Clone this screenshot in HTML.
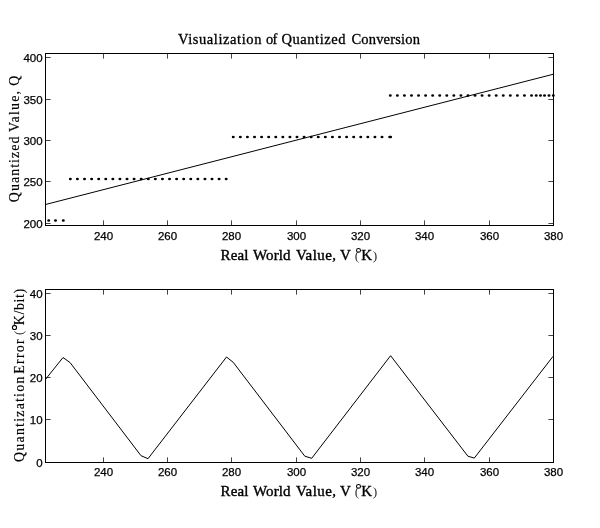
<!DOCTYPE html><html><head><meta charset="utf-8"><style>html,body{margin:0;padding:0;background:#fff;}svg{display:block;filter:grayscale(1);}.s{font-family:"Liberation Serif",serif;fill:#000;stroke:#000;}.t{font-family:"Liberation Sans",sans-serif;font-size:11.5px;fill:#000;stroke:#000;stroke-width:0.25px;}.p{font-family:"Liberation Serif",serif;font-size:13.5px;fill:#333;}</style></head><body>
<svg width="600" height="528" viewBox="0 0 600 528">
<rect width="600" height="528" fill="#fff"/>
<path d="M103.5 225v-4M103.5 54v4M167.5 225v-4M167.5 54v4M231.5 225v-4M231.5 54v4M296.5 225v-4M296.5 54v4M360.5 225v-4M360.5 54v4M424.5 225v-4M424.5 54v4M489.5 225v-4M489.5 54v4M46 57.5h4M553 57.5h-4M46 99.5h4M553 99.5h-4M46 140.5h4M553 140.5h-4M46 181.5h4M553 181.5h-4M46 223.5h4M553 223.5h-4" stroke="#454545" stroke-width="1" fill="none" shape-rendering="crispEdges"/>
<path d="M103.5 221v-1M103.5 58v1M167.5 221v-1M167.5 58v1M231.5 221v-1M231.5 58v1M296.5 221v-1M296.5 58v1M360.5 221v-1M360.5 58v1M424.5 221v-1M424.5 58v1M489.5 221v-1M489.5 58v1M50 57.5h1M549 57.5h-1M50 99.5h1M549 99.5h-1M50 140.5h1M549 140.5h-1M50 181.5h1M549 181.5h-1M50 223.5h1M549 223.5h-1" stroke="#8c8c8c" stroke-width="1" fill="none" shape-rendering="crispEdges"/>
<rect x="45.5" y="53.5" width="508" height="172" fill="none" stroke="#000" stroke-width="1" shape-rendering="crispEdges"/>
<text class="t" x="103.5" y="239.7" text-anchor="middle">240</text>
<text class="t" x="167.5" y="239.7" text-anchor="middle">260</text>
<text class="t" x="231.5" y="239.7" text-anchor="middle">280</text>
<text class="t" x="296.5" y="239.7" text-anchor="middle">300</text>
<text class="t" x="360.5" y="239.7" text-anchor="middle">320</text>
<text class="t" x="424.5" y="239.7" text-anchor="middle">340</text>
<text class="t" x="489.5" y="239.7" text-anchor="middle">360</text>
<text class="t" x="553.5" y="239.7" text-anchor="middle">380</text>
<text class="t" x="42.6" y="61.7" text-anchor="end">400</text>
<text class="t" x="42.6" y="103.7" text-anchor="end">350</text>
<text class="t" x="42.6" y="144.7" text-anchor="end">300</text>
<text class="t" x="42.6" y="185.7" text-anchor="end">250</text>
<text class="t" x="42.6" y="227.7" text-anchor="end">200</text>
<text class="p" x="354.8" y="260.1">(</text>
<ellipse cx="358.5" cy="250.4" rx="2" ry="1.85" fill="none" stroke="#000" stroke-width="1.05"/>
<text class="p" x="372.7" y="260.1">)</text>
<path d="M103.5 462v-4M103.5 290v4M167.5 462v-4M167.5 290v4M231.5 462v-4M231.5 290v4M296.5 462v-4M296.5 290v4M360.5 462v-4M360.5 290v4M424.5 462v-4M424.5 290v4M489.5 462v-4M489.5 290v4M46 293.5h4M553 293.5h-4M46 335.5h4M553 335.5h-4M46 377.5h4M553 377.5h-4M46 419.5h4M553 419.5h-4" stroke="#454545" stroke-width="1" fill="none" shape-rendering="crispEdges"/>
<path d="M103.5 458v-1M103.5 294v1M167.5 458v-1M167.5 294v1M231.5 458v-1M231.5 294v1M296.5 458v-1M296.5 294v1M360.5 458v-1M360.5 294v1M424.5 458v-1M424.5 294v1M489.5 458v-1M489.5 294v1M50 293.5h1M549 293.5h-1M50 335.5h1M549 335.5h-1M50 377.5h1M549 377.5h-1M50 419.5h1M549 419.5h-1" stroke="#8c8c8c" stroke-width="1" fill="none" shape-rendering="crispEdges"/>
<rect x="45.5" y="289.5" width="508" height="173" fill="none" stroke="#000" stroke-width="1" shape-rendering="crispEdges"/>
<text class="t" x="103.5" y="475.7" text-anchor="middle">240</text>
<text class="t" x="167.5" y="475.7" text-anchor="middle">260</text>
<text class="t" x="231.5" y="475.7" text-anchor="middle">280</text>
<text class="t" x="296.5" y="475.7" text-anchor="middle">300</text>
<text class="t" x="360.5" y="475.7" text-anchor="middle">320</text>
<text class="t" x="424.5" y="475.7" text-anchor="middle">340</text>
<text class="t" x="489.5" y="475.7" text-anchor="middle">360</text>
<text class="t" x="553.5" y="475.7" text-anchor="middle">380</text>
<text class="t" x="42.6" y="297.7" text-anchor="end">40</text>
<text class="t" x="42.6" y="339.7" text-anchor="end">30</text>
<text class="t" x="42.6" y="381.7" text-anchor="end">20</text>
<text class="t" x="42.6" y="423.7" text-anchor="end">10</text>
<text class="t" x="42.6" y="466.7" text-anchor="end">0</text>
<text class="p" x="354.8" y="496.1">(</text>
<ellipse cx="358.5" cy="486.4" rx="2" ry="1.85" fill="none" stroke="#000" stroke-width="1.05"/>
<text class="p" x="372.7" y="496.1">)</text>
<text id="t1" class="s" x="178" y="43.7" font-size="14.5" stroke-width="0.3" textLength="83.4" lengthAdjust="spacing">Visualization</text>
<text id="t2" class="s" x="266" y="43.7" font-size="14.5" stroke-width="0.3" textLength="11.4" lengthAdjust="spacing">of</text>
<text id="t3" class="s" x="281.5" y="43.7" font-size="14.5" stroke-width="0.3" textLength="64" lengthAdjust="spacing">Quantized</text>
<text id="t4" class="s" x="351.5" y="43.7" font-size="14.5" stroke-width="0.3" textLength="68.4" lengthAdjust="spacing">Conversion</text>
<text id="x1a" class="s" x="220.6" y="259.8" font-size="15" stroke-width="0.38" textLength="27.9" lengthAdjust="spacing">Real</text>
<text id="x2a" class="s" x="253" y="259.8" font-size="15" stroke-width="0.38" textLength="37.5" lengthAdjust="spacing">World</text>
<text id="x3a" class="s" x="296" y="259.8" font-size="15" stroke-width="0.38" textLength="40" lengthAdjust="spacing">Value,</text>
<text id="x4a" class="s" x="340" y="259.8" font-size="15" stroke-width="0.38" textLength="-2" lengthAdjust="spacing">V</text>
<text id="x5a" class="s" x="361.25" y="259.8" font-size="15" stroke-width="0.38" textLength="7.75" lengthAdjust="spacing">K</text>
<text id="x1b" class="s" x="220.6" y="495.8" font-size="15" stroke-width="0.38" textLength="27.9" lengthAdjust="spacing">Real</text>
<text id="x2b" class="s" x="253" y="495.8" font-size="15" stroke-width="0.38" textLength="37.5" lengthAdjust="spacing">World</text>
<text id="x3b" class="s" x="296" y="495.8" font-size="15" stroke-width="0.38" textLength="40" lengthAdjust="spacing">Value,</text>
<text id="x4b" class="s" x="340" y="495.8" font-size="15" stroke-width="0.38" textLength="-2" lengthAdjust="spacing">V</text>
<text id="x5b" class="s" x="361.25" y="495.8" font-size="15" stroke-width="0.38" textLength="7.75" lengthAdjust="spacing">K</text>
<text id="y1" class="s" transform="translate(18.8,202.25) rotate(-90)" font-size="14" stroke-width="0.15" textLength="65.75" lengthAdjust="spacing">Quantized</text>
<text id="y2" class="s" transform="translate(18.8,132.1) rotate(-90)" font-size="14" stroke-width="0.15" textLength="41.2" lengthAdjust="spacing">Value,</text>
<text id="y3" class="s" transform="translate(18.8,85.8) rotate(-90)" font-size="14" stroke-width="0.15" textLength="7.7" lengthAdjust="spacing">Q</text>
<text id="z1" class="s" transform="translate(24,462) rotate(-90)" font-size="14" stroke-width="0.15" textLength="85.4" lengthAdjust="spacing">Quantization</text>
<text id="z2" class="s" transform="translate(24,373.75) rotate(-90)" font-size="14" stroke-width="0.15" textLength="34.45" lengthAdjust="spacing">Error</text>
<text id="z3" class="s" transform="translate(24,325.3) rotate(-90)" font-size="14" stroke-width="0.15" textLength="36.5" lengthAdjust="spacing">K/bit)</text>
<text class="p" transform="translate(22.9,334.9) rotate(-90)">(</text>
<ellipse cx="14.5" cy="327.4" rx="2.05" ry="2.05" fill="none" stroke="#000" stroke-width="1.05"/>
<path d="M45.5 204.5L553 74.3" stroke="#000" stroke-width="1" fill="none"/>
<path d="M47.2 220.5a1.5 1.3 0 1 0 3 0a1.5 1.3 0 1 0 -3 0zM54 220.5a1.5 1.3 0 1 0 3 0a1.5 1.3 0 1 0 -3 0zM61.8 220.5a1.5 1.3 0 1 0 3 0a1.5 1.3 0 1 0 -3 0zM68.85 179a1.5 1.3 0 1 0 3 0a1.5 1.3 0 1 0 -3 0zM75.93 179a1.5 1.3 0 1 0 3 0a1.5 1.3 0 1 0 -3 0zM83.02 179a1.5 1.3 0 1 0 3 0a1.5 1.3 0 1 0 -3 0zM90.1 179a1.5 1.3 0 1 0 3 0a1.5 1.3 0 1 0 -3 0zM97.18 179a1.5 1.3 0 1 0 3 0a1.5 1.3 0 1 0 -3 0zM104.26 179a1.5 1.3 0 1 0 3 0a1.5 1.3 0 1 0 -3 0zM111.35 179a1.5 1.3 0 1 0 3 0a1.5 1.3 0 1 0 -3 0zM118.43 179a1.5 1.3 0 1 0 3 0a1.5 1.3 0 1 0 -3 0zM125.51 179a1.5 1.3 0 1 0 3 0a1.5 1.3 0 1 0 -3 0zM132.6 179a1.5 1.3 0 1 0 3 0a1.5 1.3 0 1 0 -3 0zM139.68 179a1.5 1.3 0 1 0 3 0a1.5 1.3 0 1 0 -3 0zM146.76 179a1.5 1.3 0 1 0 3 0a1.5 1.3 0 1 0 -3 0zM153.84 179a1.5 1.3 0 1 0 3 0a1.5 1.3 0 1 0 -3 0zM160.93 179a1.5 1.3 0 1 0 3 0a1.5 1.3 0 1 0 -3 0zM168.01 179a1.5 1.3 0 1 0 3 0a1.5 1.3 0 1 0 -3 0zM175.09 179a1.5 1.3 0 1 0 3 0a1.5 1.3 0 1 0 -3 0zM182.18 179a1.5 1.3 0 1 0 3 0a1.5 1.3 0 1 0 -3 0zM189.26 179a1.5 1.3 0 1 0 3 0a1.5 1.3 0 1 0 -3 0zM196.34 179a1.5 1.3 0 1 0 3 0a1.5 1.3 0 1 0 -3 0zM203.43 179a1.5 1.3 0 1 0 3 0a1.5 1.3 0 1 0 -3 0zM210.51 179a1.5 1.3 0 1 0 3 0a1.5 1.3 0 1 0 -3 0zM217.59 179a1.5 1.3 0 1 0 3 0a1.5 1.3 0 1 0 -3 0zM224.68 179a1.5 1.3 0 1 0 3 0a1.5 1.3 0 1 0 -3 0zM231.76 137a1.5 1.3 0 1 0 3 0a1.5 1.3 0 1 0 -3 0zM238.84 137a1.5 1.3 0 1 0 3 0a1.5 1.3 0 1 0 -3 0zM245.92 137a1.5 1.3 0 1 0 3 0a1.5 1.3 0 1 0 -3 0zM253.01 137a1.5 1.3 0 1 0 3 0a1.5 1.3 0 1 0 -3 0zM260.09 137a1.5 1.3 0 1 0 3 0a1.5 1.3 0 1 0 -3 0zM267.17 137a1.5 1.3 0 1 0 3 0a1.5 1.3 0 1 0 -3 0zM274.26 137a1.5 1.3 0 1 0 3 0a1.5 1.3 0 1 0 -3 0zM281.34 137a1.5 1.3 0 1 0 3 0a1.5 1.3 0 1 0 -3 0zM288.42 137a1.5 1.3 0 1 0 3 0a1.5 1.3 0 1 0 -3 0zM295.5 137a1.5 1.3 0 1 0 3 0a1.5 1.3 0 1 0 -3 0zM302.59 137a1.5 1.3 0 1 0 3 0a1.5 1.3 0 1 0 -3 0zM309.67 137a1.5 1.3 0 1 0 3 0a1.5 1.3 0 1 0 -3 0zM316.75 137a1.5 1.3 0 1 0 3 0a1.5 1.3 0 1 0 -3 0zM323.84 137a1.5 1.3 0 1 0 3 0a1.5 1.3 0 1 0 -3 0zM330.92 137a1.5 1.3 0 1 0 3 0a1.5 1.3 0 1 0 -3 0zM338 137a1.5 1.3 0 1 0 3 0a1.5 1.3 0 1 0 -3 0zM345.09 137a1.5 1.3 0 1 0 3 0a1.5 1.3 0 1 0 -3 0zM352.17 137a1.5 1.3 0 1 0 3 0a1.5 1.3 0 1 0 -3 0zM359.25 137a1.5 1.3 0 1 0 3 0a1.5 1.3 0 1 0 -3 0zM366.34 137a1.5 1.3 0 1 0 3 0a1.5 1.3 0 1 0 -3 0zM373.42 137a1.5 1.3 0 1 0 3 0a1.5 1.3 0 1 0 -3 0zM380.5 137a1.5 1.3 0 1 0 3 0a1.5 1.3 0 1 0 -3 0zM388.2 137a1.5 1.3 0 1 0 3 0a1.5 1.3 0 1 0 -3 0zM389.1 137a1.5 1.3 0 1 0 3 0a1.5 1.3 0 1 0 -3 0zM388.8 95.5a1.5 1.3 0 1 0 3 0a1.5 1.3 0 1 0 -3 0zM395.86 95.5a1.5 1.3 0 1 0 3 0a1.5 1.3 0 1 0 -3 0zM402.92 95.5a1.5 1.3 0 1 0 3 0a1.5 1.3 0 1 0 -3 0zM409.98 95.5a1.5 1.3 0 1 0 3 0a1.5 1.3 0 1 0 -3 0zM417.04 95.5a1.5 1.3 0 1 0 3 0a1.5 1.3 0 1 0 -3 0zM424.1 95.5a1.5 1.3 0 1 0 3 0a1.5 1.3 0 1 0 -3 0zM431.16 95.5a1.5 1.3 0 1 0 3 0a1.5 1.3 0 1 0 -3 0zM438.22 95.5a1.5 1.3 0 1 0 3 0a1.5 1.3 0 1 0 -3 0zM445.28 95.5a1.5 1.3 0 1 0 3 0a1.5 1.3 0 1 0 -3 0zM452.34 95.5a1.5 1.3 0 1 0 3 0a1.5 1.3 0 1 0 -3 0zM459.4 95.5a1.5 1.3 0 1 0 3 0a1.5 1.3 0 1 0 -3 0zM466.46 95.5a1.5 1.3 0 1 0 3 0a1.5 1.3 0 1 0 -3 0zM473.52 95.5a1.5 1.3 0 1 0 3 0a1.5 1.3 0 1 0 -3 0zM480.58 95.5a1.5 1.3 0 1 0 3 0a1.5 1.3 0 1 0 -3 0zM487.64 95.5a1.5 1.3 0 1 0 3 0a1.5 1.3 0 1 0 -3 0zM494.7 95.5a1.5 1.3 0 1 0 3 0a1.5 1.3 0 1 0 -3 0zM501.76 95.5a1.5 1.3 0 1 0 3 0a1.5 1.3 0 1 0 -3 0zM508.82 95.5a1.5 1.3 0 1 0 3 0a1.5 1.3 0 1 0 -3 0zM515.88 95.5a1.5 1.3 0 1 0 3 0a1.5 1.3 0 1 0 -3 0zM522.94 95.5a1.5 1.3 0 1 0 3 0a1.5 1.3 0 1 0 -3 0zM530 95.5a1.5 1.3 0 1 0 3 0a1.5 1.3 0 1 0 -3 0zM534.7 95.5a1.5 1.3 0 1 0 3 0a1.5 1.3 0 1 0 -3 0zM539 95.5a1.5 1.3 0 1 0 3 0a1.5 1.3 0 1 0 -3 0zM543 95.5a1.5 1.3 0 1 0 3 0a1.5 1.3 0 1 0 -3 0zM547.5 95.5a1.5 1.3 0 1 0 3 0a1.5 1.3 0 1 0 -3 0zM551.8 95.5a1.5 1.3 0 1 0 3 0a1.5 1.3 0 1 0 -3 0z" fill="#000"/>
<path d="M45.5 379.4L63 357.5L70.1 362.6L141 455.7L148 458.7L226.5 357L233.2 362.3L304.8 456.2L311.7 458.3L390.6 355.7L467.9 456.2L474.3 458.1L553 356.4" stroke="#000" stroke-width="1" fill="none"/>
</svg></body></html>
